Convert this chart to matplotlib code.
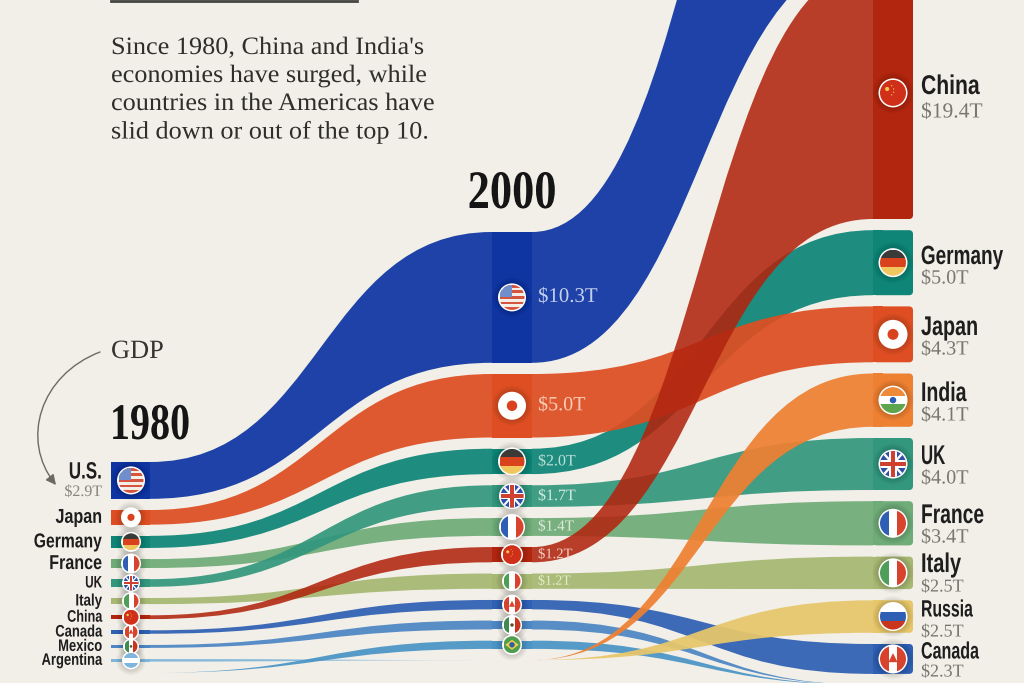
import matplotlib
matplotlib.use("Agg")
import matplotlib.pyplot as plt
from matplotlib.patches import Circle, Rectangle, Polygon, PathPatch, FancyArrowPatch, FancyBboxPatch
from matplotlib.patheffects import AbstractPathEffect
from matplotlib.transforms import Affine2D
from matplotlib.path import Path

BG = "#F2EFE8"
SANS = ["Liberation Sans", "DejaVu Sans"]
SERIF = ["Liberation Serif", "DejaVu Serif"]

# GDP in trillions, listed top to bottom per year. 0 = outside the top 10
countries_1980 = ["US", "Japan", "Germany", "France", "UK", "Italy", "China", "Canada", "Mexico", "Argentina", "Brazil"]
values_1980 = [2.9, 1.15, 0.95, 0.7, 0.6, 0.48, 0.3, 0.27, 0.23, 0.2, 0]

countries_2000 = ["US", "Japan", "Germany", "UK", "France", "China", "Italy", "Canada", "Mexico", "Brazil", "Argentina", "India", "Russia"]
values_2000 = [10.3, 5.0, 2.0, 1.7, 1.4, 1.2, 1.2, 0.74, 0.7, 0.65, 0, 0, 0]

countries_2024 = ["US", "China", "Germany", "Japan", "India", "UK", "France", "Italy", "Russia", "Canada", "Mexico", "Brazil"]
values_2024 = [29.2, 19.4, 5.0, 4.3, 4.1, 4.0, 3.4, 2.5, 2.5, 2.3, 0, 0]

colors = {
    "US": "#0E35A2",
    "Japan": "#DE4E22",
    "Germany": "#0E8576",
    "UK": "#33977D",
    "France": "#6FAC78",
    "Italy": "#A6B872",
    "China": "#B2250F",
    "Canada": "#2F60B3",
    "Mexico": "#4C86C4",
    "Argentina": "#7FB5DA",
    "Brazil": "#4A94C6",
    "India": "#EE8032",
    "Russia": "#E8C76A",
}

# back to front
draw_order = ["Argentina", "Brazil", "Mexico", "Canada", "Italy", "France", "UK", "Germany", "Japan", "US", "Russia", "India", "China"]

labels_1980 = ["U.S.", "Japan", "Germany", "France", "UK", "Italy", "China", "Canada", "Mexico", "Argentina"]
label_sizes_1980 = [17, 14.5, 14.5, 14.5, 12, 12, 12, 12, 12, 12]
squeeze_1980 = [0.72, 0.8, 0.78, 0.8, 0.7, 0.8, 0.76, 0.78, 0.78, 0.78]
flag_r_1980 = [14, 10, 10, 10, 9, 9, 9, 8, 8, 9]
flag_r_2000 = [14, 14, 14, 13, 13, 11, 10, 10, 10, 10]
value_labels_2000 = ["$10.3T", "$5.0T", "$2.0T", "$1.7T", "$1.4T", "$1.2T", "$1.2T"]
value_sizes_2000 = [15, 14.5, 11.5, 11.5, 11, 10.5, 10]
value_colors_2000 = ["#C5D0EC", "#F7CDB8", "#BFE0D8", "#D3EBE2", "#DCEBD8", "#F3CFC4", "#E6ECCB"]

labels_2024 = ["China", "Germany", "Japan", "India", "UK", "France", "Italy", "Russia", "Canada"]
value_labels_2024 = ["$19.4T", "$5.0T", "$4.3T", "$4.1T", "$4.0T", "$3.4T", "$2.5T", "$2.5T", "$2.3T"]
name_y_2024 = [87, 257, 328, 394, 457, 516, 565, 610, 652]
val_y_2024 = [113, 279, 350, 416, 479, 538, 587, 632, 672]
name_sizes_2024 = [19.5, 19, 19.5, 19.5, 19.5, 19.5, 19.5, 17, 17]
squeeze_2024 = [0.78, 0.72, 0.73, 0.72, 0.62, 0.71, 0.74, 0.67, 0.68]
val_sizes_2024 = [15.5, 14.5, 14.5, 14.5, 14.5, 14.5, 13, 13, 13]

GAP = 11.2


class Squeeze(AbstractPathEffect):
    # no condensed font here, so narrow the glyphs around the text anchor
    def __init__(self, anchor, sx):
        super().__init__()
        self.anchor = anchor
        self.sx = sx

    def draw_path(self, renderer, gc, tpath, affine, rgbFace=None):
        squeeze = Affine2D().translate(-self.anchor, 0).scale(self.sx, 1).translate(self.anchor, 0)
        renderer.draw_path(gc, tpath, affine + squeeze, rgbFace)


def label(ax, x, y, s, sx=1.0, **kw):
    px = ax.transData.transform((x, 0))[0]
    return ax.text(x, y, s, va="center", zorder=8, path_effects=[Squeeze(px, sx)], **kw)


def stack(names, values, top, scale):
    pos = {}
    y = top
    for n, v in zip(names, values):
        if v == 0:
            pos[n] = (y, y)
        else:
            pos[n] = (y, y + v * scale)
            y = y + v * scale + GAP
    return pos


def ribbon(ax, x0, band0, x1, band1, color, alpha=0.93):
    mid = (x0 + x1) / 2
    verts = [(x0, band0[0]), (mid, band0[0]), (mid, band1[0]), (x1, band1[0]),
             (x1, band1[1]), (mid, band1[1]), (mid, band0[1]), (x0, band0[1]), (x0, band0[0])]
    codes = [Path.MOVETO, Path.CURVE4, Path.CURVE4, Path.CURVE4,
             Path.LINETO, Path.CURVE4, Path.CURVE4, Path.CURVE4, Path.CLOSEPOLY]
    ax.add_patch(PathPatch(Path(verts, codes), fc=color, ec="none", alpha=alpha, zorder=2))


def flag(ax, name, cx, cy, r):
    for k in range(6):
        ax.add_patch(Circle((cx, cy), r + 6 - k, fc="black", ec="none", alpha=0.025, zorder=5))
    ax.add_patch(Circle((cx, cy), r, fc="white", ec="none", zorder=6))
    fr = r - 1.5
    clip = Circle((cx, cy), fr, transform=ax.transData)
    x, y = cx - fr, cy - fr
    d = 2 * fr
    arts = []

    def rect(a, b, w, h, c):
        arts.append(Rectangle((x + a * d, y + b * d), w * d, h * d, fc=c, ec="none"))

    def hbands(*cs):
        for i, c in enumerate(cs):
            rect(0, i / len(cs), 1, 1 / len(cs), c)

    def vbands(*cs):
        for i, c in enumerate(cs):
            rect(i / len(cs), 0, 1 / len(cs), 1, c)

    if name == "US":
        rect(0, 0, 1, 1, "#F4EDE6")
        for i in range(0, 9, 2):
            rect(0, i / 9, 1, 1 / 9, "#D5543F")
        rect(0, 0, 0.48, 0.5, "#6E8FCB")
    elif name == "Japan":
        rect(0, 0, 1, 1, "white")
        arts.append(Circle((cx, cy), fr * 0.42, fc="#D8431E", ec="none"))
    elif name == "Germany":
        hbands("#3A3A38", "#D8431E", "#EFC75E")
    elif name == "France":
        vbands("#2F5FB5", "white", "#D8432E")
    elif name == "Italy":
        vbands("#4E9E5A", "white", "#D8432E")
    elif name == "Russia":
        hbands("white", "#2F5FB5", "#C8361E")
    elif name == "Mexico":
        vbands("#3E8A50", "white", "#C8361E")
        arts.append(Circle((cx, cy), fr * 0.2, fc="#5A4A30", ec="none"))
    elif name == "Argentina":
        hbands("#7FB5DA", "white", "#7FB5DA")
    elif name == "India":
        hbands("#EE8A3A", "white", "#5DA64E")
        arts.append(Circle((cx, cy), fr * 0.25, fc="#2F5FB5", ec="none"))
    elif name == "Canada":
        vbands("#D8432E", "white", "#D8432E")
        arts.append(Polygon([(cx, cy - fr * 0.45), (cx + fr * 0.35, cy + fr * 0.25), (cx - fr * 0.35, cy + fr * 0.25)], fc="#D8432E", ec="none"))
    elif name == "China":
        rect(0, 0, 1, 1, "#D0301A")
        arts.append(Circle((cx - fr * 0.45, cy - fr * 0.3), fr * 0.16, fc="#F4C64E", ec="none"))
        for a, b in [(-0.1, -0.55), (0.05, -0.3), (0.05, -0.05), (-0.1, 0.15)]:
            arts.append(Circle((cx + a * fr, cy + b * fr), fr * 0.05, fc="#F4C64E", ec="none"))
    elif name == "UK":
        rect(0, 0, 1, 1, "#2F4FA5")
        arts.append(Polygon([(x, y), (x + d * 0.12, y), (x + d, y + d), (x + d * 0.88, y + d)], fc="white", ec="none"))
        arts.append(Polygon([(x + d, y), (x + d * 0.88, y), (x, y + d), (x + d * 0.12, y + d)], fc="white", ec="none"))
        rect(0.36, 0, 0.28, 1, "white")
        rect(0, 0.36, 1, 0.28, "white")
        rect(0.42, 0, 0.16, 1, "#D0402E")
        rect(0, 0.42, 1, 0.16, "#D0402E")
    elif name == "Brazil":
        rect(0, 0, 1, 1, "#4E9E4E")
        arts.append(Polygon([(cx - fr * 0.8, cy), (cx, cy - fr * 0.6), (cx + fr * 0.8, cy), (cx, cy + fr * 0.6)], fc="#EBCB4E", ec="none"))
        arts.append(Circle((cx, cy), fr * 0.32, fc="#2F5FA5", ec="none"))
    for a in arts:
        a.set_zorder(7)
        ax.add_patch(a)
        a.set_clip_path(clip)


fig = plt.figure(figsize=(10.24, 6.83), dpi=100, facecolor=BG)
ax = fig.add_axes([0, 0, 1, 1])
ax.set_xlim(0, 1024)
ax.set_ylim(683, 0)
ax.axis("off")

pos_1980 = stack(countries_1980, values_1980, 462, 12.7)
pos_2000 = stack(countries_2000, values_2000, 232, 12.7)
pos_2024 = stack(countries_2024, values_2024, -424, 13.0)

# ribbons
for name in draw_order:
    a = 0.88 if name == "China" else 0.93
    if name in pos_1980 and name in pos_2000:
        ribbon(ax, 150, pos_1980[name], 492, pos_2000[name], colors[name], a)
    if name in pos_2000 and name in pos_2024:
        ribbon(ax, 532, pos_2000[name], 873, pos_2024[name], colors[name], a)

# year columns
for n, v in zip(countries_1980, values_1980):
    if v > 0:
        t, b = pos_1980[n]
        ax.add_patch(Rectangle((111, t), 39, b - t, fc=colors[n], ec="none", zorder=3))
for n, v in zip(countries_2000, values_2000):
    if v > 0:
        t, b = pos_2000[n]
        ax.add_patch(Rectangle((492, t), 40, b - t, fc=colors[n], ec="none", zorder=3))
for n, v in zip(countries_2024, values_2024):
    if v > 0:
        t, b = pos_2024[n]
        ax.add_patch(FancyBboxPatch((873, t), 40, b - t, boxstyle="round,pad=0,rounding_size=4", fc=colors[n], ec="none", zorder=3))
        ax.add_patch(Rectangle((873, t), 10, b - t, fc=colors[n], ec="none", zorder=3))

# flags
names_1980 = [n for n, v in zip(countries_1980, values_1980) if v > 0]
for n, r in zip(names_1980, flag_r_1980):
    flag(ax, n, 131, sum(pos_1980[n]) / 2, r)
names_2000 = [n for n, v in zip(countries_2000, values_2000) if v > 0]
for n, r in zip(names_2000, flag_r_2000):
    flag(ax, n, 512, sum(pos_2000[n]) / 2, r)
for n in labels_2024:
    flag(ax, n, 893, sum(pos_2024[n]) / 2, 14.5)

# left labels
for n, lab, s, sx in zip(names_1980, labels_1980, label_sizes_1980, squeeze_1980):
    yy = sum(pos_1980[n]) / 2
    if n == "US":
        yy = 472
    label(ax, 102, yy, lab, sx, ha="right", family=SANS, weight="bold", fontsize=s, color="#1E1E1E")
label(ax, 102, 492, "$2.9T", ha="right", family=SERIF, fontsize=11.5, color="#85857D")

# middle labels
for n, lab, s, c in zip(names_2000, value_labels_2000, value_sizes_2000, value_colors_2000):
    label(ax, 538, sum(pos_2000[n]) / 2, lab, ha="left", family=SERIF, fontsize=s, color=c)

# right labels
for n, v, ny, vy, ns, sx, vs in zip(labels_2024, value_labels_2024, name_y_2024, val_y_2024, name_sizes_2024, squeeze_2024, val_sizes_2024):
    if n == "Germany":
        # anchored on its right end, the unsqueezed extent would pass the edge otherwise
        label(ax, 1003, ny, n, sx, ha="right", family=SANS, weight="bold", fontsize=ns, color="#1E1E1E")
    else:
        label(ax, 921, ny, n, sx, ha="left", family=SANS, weight="bold", fontsize=ns, color="#1E1E1E")
    label(ax, 921, vy, v, ha="left", family=SERIF, fontsize=vs, color="#77776F")

# years
label(ax, 150, 427, "1980", 0.78, ha="center", family=SERIF, weight="bold", fontsize=37, color="#151515")
label(ax, 512, 195, "2000", 0.82, ha="center", family=SERIF, weight="bold", fontsize=39, color="#151515")

# intro text
intro = ["Since 1980, China and India's", "economies have surged, while",
         "countries in the Americas have", "slid down or out of the top 10."]
for line, yy in zip(intro, [48, 76, 104, 132]):
    label(ax, 111, yy, line, 1.05, ha="left", family=SERIF, fontsize=18, color="#2E2E2A")
ax.plot([111, 357], [0.5, 0.5], color="#444440", lw=2)

# GDP note with arrow
label(ax, 111, 352, "GDP", ha="left", family=SERIF, fontsize=19, color="#33332F")
arrow_path = Path([(100, 352), (40, 375), (20, 440), (56, 485)], [Path.MOVETO, Path.CURVE4, Path.CURVE4, Path.CURVE4])
ax.add_patch(FancyArrowPatch(path=arrow_path, arrowstyle="-|>", mutation_scale=15, color="#6B6B63", lw=1))

fig.savefig("out.png", dpi=100, facecolor=BG)
